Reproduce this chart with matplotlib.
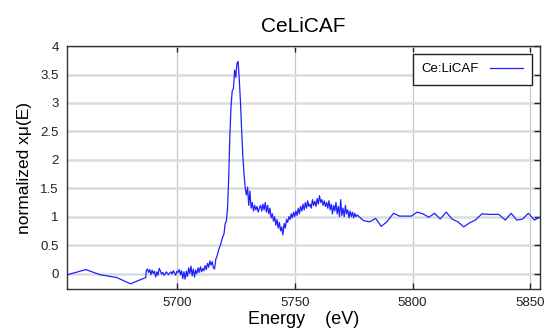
import matplotlib
matplotlib.use('Agg')
import matplotlib.pyplot as plt

plt.rcParams['font.family'] = ['Liberation Sans', 'DejaVu Sans']

# pre-edge, sparse scan
energy_pre = [5652.0, 5661.4, 5667.4, 5674.5, 5680.3, 5686.8]
mu_pre = [-0.04, 0.07, -0.02, -0.07, -0.18, -0.07]

# dense scan region (0.5 eV)
energy_dense = [
    5687.0, 5687.5, 5688.0, 5688.5, 5689.0, 5689.5, 5690.0, 5690.5, 5691.0, 5691.5,
    5692.0, 5692.5, 5693.0, 5693.5, 5694.0, 5694.5, 5695.0, 5695.5, 5696.0, 5696.5,
    5697.0, 5697.5, 5698.0, 5698.5, 5699.0, 5699.5, 5700.0, 5700.5, 5701.0, 5701.5,
    5702.0, 5702.5, 5703.0, 5703.5, 5704.0, 5704.5, 5705.0, 5705.5, 5706.0, 5706.5,
    5707.0, 5707.5, 5708.0, 5708.5, 5709.0, 5709.5, 5710.0, 5710.5, 5711.0, 5711.5,
    5712.0, 5712.5, 5713.0, 5713.5, 5714.0, 5714.5, 5715.0, 5715.5, 5716.0, 5716.5,
    5717.0, 5717.5, 5718.0, 5718.5, 5719.0, 5719.5, 5720.0, 5720.5, 5721.0, 5721.5,
    5722.0, 5722.5, 5723.0, 5723.5, 5724.0, 5724.5, 5725.0, 5725.5, 5726.0, 5726.5,
    5727.0, 5727.5, 5728.0, 5728.5, 5729.0, 5729.5, 5730.0, 5730.5, 5731.0, 5731.5,
    5732.0, 5732.5, 5733.0, 5733.5, 5734.0, 5734.5, 5735.0, 5735.5, 5736.0, 5736.5,
    5737.0, 5737.5, 5738.0, 5738.5, 5739.0, 5739.5, 5740.0, 5740.5, 5741.0, 5741.5,
    5742.0, 5742.5, 5743.0, 5743.5, 5744.0, 5744.5, 5745.0, 5745.5, 5746.0, 5746.5,
    5747.0, 5747.5, 5748.0, 5748.5, 5749.0, 5749.5, 5750.0, 5750.5, 5751.0, 5751.5,
    5752.0, 5752.5, 5753.0, 5753.5, 5754.0, 5754.5, 5755.0, 5755.5, 5756.0, 5756.5,
    5757.0, 5757.5, 5758.0, 5758.5, 5759.0, 5759.5, 5760.0, 5760.5, 5761.0, 5761.5,
    5762.0, 5762.5, 5763.0, 5763.5, 5764.0, 5764.5, 5765.0, 5765.5, 5766.0, 5766.5,
    5767.0, 5767.5, 5768.0, 5768.5, 5769.0, 5769.5, 5770.0, 5770.5, 5771.0, 5771.5,
    5772.0, 5772.5, 5773.0, 5773.5, 5774.0, 5774.5, 5775.0, 5775.5, 5776.0, 5776.5,
]
mu_dense = [
    0.05, 0.08, 0.02, 0.07, -0.02, 0.06, 0.00, 0.04, -0.06, 0.03,
    -0.03, 0.09, 0.05, -0.01, 0.02, -0.03, -0.01, 0.03, 0.00, -0.02,
    0.01, 0.03, -0.01, 0.05, 0.01, -0.03, 0.04, 0.02, 0.07, -0.02,
    0.05, -0.09, 0.03, -0.10, 0.04, -0.05, 0.10, 0.00, 0.13, -0.04,
    0.08, -0.06, 0.06, 0.00, 0.10, 0.02, 0.12, 0.03, 0.09, 0.05,
    0.14, 0.07, 0.18, 0.11, 0.22, 0.15, 0.21, 0.10, 0.08, 0.25,
    0.30, 0.38, 0.45, 0.50, 0.58, 0.65, 0.70, 0.88, 0.92, 1.15,
    1.70, 2.45, 2.95, 3.22, 3.25, 3.58, 3.45, 3.70, 3.73, 3.40,
    3.00, 2.50, 2.05, 1.75, 1.50, 1.38, 1.52, 1.20, 1.45, 1.15,
    1.25, 1.10, 1.20, 1.12, 1.18, 1.08, 1.15, 1.20, 1.10, 1.22,
    1.12, 1.25, 1.08, 1.20, 1.05, 1.15, 0.98, 1.05, 0.92, 1.00,
    0.85, 0.95, 0.80, 0.90, 0.75, 0.82, 0.68, 0.88, 0.80, 0.95,
    0.90, 1.00, 0.95, 1.05, 0.98, 1.08, 1.00, 1.10, 1.02, 1.15,
    1.05, 1.18, 1.10, 1.22, 1.12, 1.25, 1.15, 1.28, 1.18, 1.22,
    1.15, 1.30, 1.20, 1.27, 1.18, 1.32, 1.22, 1.37, 1.25, 1.30,
    1.20, 1.28, 1.18, 1.25, 1.15, 1.28, 1.12, 1.22, 1.05, 1.20,
    1.10, 1.25, 1.05, 1.18, 1.00, 1.30, 1.02, 1.15, 1.00, 1.20,
    1.05, 1.12, 0.98, 1.10, 1.00, 1.08, 0.98, 1.06, 1.00, 1.03,
]

# post-edge, sparse scan
energy_post = [5779.2, 5781.8, 5784.3, 5786.7, 5789.1, 5791.9, 5794.5, 5799.4, 5802.0, 5804.4,
               5806.9, 5809.3, 5811.7, 5814.3, 5816.7, 5819.2, 5821.7, 5824.1, 5826.6, 5829.4,
               5832.6, 5836.6, 5839.3, 5841.8, 5844.2, 5846.7, 5849.1, 5851.7, 5853.8, 5856.0]
mu_post = [0.93, 0.91, 0.97, 0.83, 0.91, 1.06, 1.01, 1.01, 1.08, 1.05,
           0.99, 1.06, 0.96, 1.08, 0.96, 0.91, 0.82, 0.89, 0.94, 1.05,
           1.04, 1.04, 0.94, 1.06, 0.94, 0.96, 1.06, 0.94, 0.99, 1.02]

energy = energy_pre + energy_dense + energy_post
mu = mu_pre + mu_dense + mu_post

fig = plt.figure(figsize=(5.47, 3.34), dpi=100)
ax = fig.add_axes([0.1225, 0.135, 0.8645, 0.727])

ax.plot(energy, mu, color='#2020ff', lw=0.9, label='Ce:LiCAF')

ax.set_xlim(5653.4, 5854)
ax.set_ylim(-0.27, 4.0)
ax.set_xticks([5700, 5750, 5800, 5850])
ax.set_yticks([0, 0.5, 1, 1.5, 2, 2.5, 3, 3.5, 4])
ax.set_yticklabels(['0', '0.5', '1', '1.5', '2', '2.5', '3', '3.5', '4'])

ax.yaxis.grid(True, color='#dcdcdc', lw=1.8)
ax.xaxis.grid(True, color='#c8c8c8', lw=0.9)
ax.set_axisbelow(True)

ax.tick_params(axis='both', direction='in', top=True, right=True, left=False,
               length=4, width=1, labelsize=9.5, colors='#222222', pad=6)
for s in ax.spines.values():
    s.set_color('#333333')
    s.set_linewidth(1.0)

ax.set_title('CeLiCAF', fontsize=15, pad=10)
ax.set_xlabel('Energy    (eV)', fontsize=13, labelpad=1)
ax.set_ylabel('normalized xμ(E)', fontsize=12.5, labelpad=6)

leg = ax.legend(loc='upper right', markerfirst=False, fancybox=False, framealpha=1,
                edgecolor='#222222', fontsize=9.5, handlelength=2.5,
                borderaxespad=0.6, borderpad=0.7)
leg.get_frame().set_linewidth(1.0)

fig.savefig('out.png', dpi=100)
